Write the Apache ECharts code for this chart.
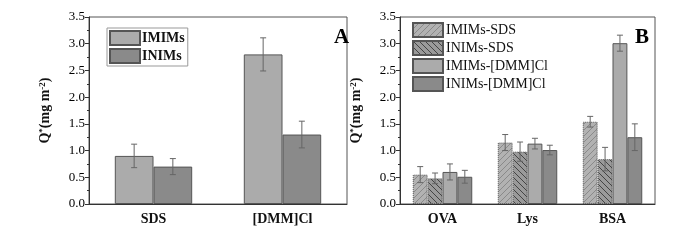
<!DOCTYPE html>
<html>
<head>
<meta charset="utf-8">
<script src="https://cdn.jsdelivr.net/npm/echarts@6/dist/echarts.min.js"></script>
<style>
  html, body { margin: 0; padding: 0; background: #fff; }
  #chart { width: 700px; height: 240px; }
</style>
</head>
<body>
<div id="chart"></div>
<script>
// panel A
var catsA = ['SDS', '[DMM]Cl']
var namesA = ['IMIMs', 'INIMs']
var imimsA = [0.90, 2.80]
var imimsErrA = [0.22, 0.31]
var inimsA = [0.70, 1.30]
var inimsErrA = [0.15, 0.25]

// panel B
var catsB = ['OVA', 'Lys', 'BSA']
var namesB = ['IMIMs-SDS', 'INIMs-SDS', 'IMIMs-[DMM]Cl', 'INIMs-[DMM]Cl']
var imimsSdsB = [0.55, 1.15, 1.54]
var imimsSdsErrB = [0.15, 0.15, 0.10]
var inimsSdsB = [0.48, 0.98, 0.84]
var inimsSdsErrB = [0.10, 0.18, 0.22]
var imimsDmmB = [0.60, 1.13, 3.01]
var imimsDmmErrB = [0.15, 0.10, 0.15]
var inimsDmmB = [0.51, 1.01, 1.25]
var inimsDmmErrB = [0.12, 0.09, 0.25]

var FONT = '"Liberation Serif", "DejaVu Serif", serif'
var LIGHT = '#ababab'
var DARK = '#8a8a8a'

function hatch (base, line, dir) {
  var c = document.createElement('canvas')
  c.width = 6
  c.height = 6
  var ctx = c.getContext('2d')
  ctx.fillStyle = base
  ctx.fillRect(0, 0, 6, 6)
  ctx.strokeStyle = line
  ctx.lineWidth = 1
  ctx.beginPath()
  if (dir > 0) {
    ctx.moveTo(0, 6); ctx.lineTo(6, 0)
    ctx.moveTo(-3, 3); ctx.lineTo(3, -3)
    ctx.moveTo(3, 9); ctx.lineTo(9, 3)
  } else {
    ctx.moveTo(0, 0); ctx.lineTo(6, 6)
    ctx.moveTo(-3, 3); ctx.lineTo(3, 9)
    ctx.moveTo(3, -3); ctx.lineTo(9, 3)
  }
  ctx.stroke()
  return { image: c, repeat: 'repeat' }
}

var yName = {
  name: '{b|Q}{s|*}{b|(mg m}{s|-2}{b|)}',
  nameLocation: 'middle',
  nameRotate: 90,
  nameGap: 36,
  nameTextStyle: {
    rich: {
      b: { fontFamily: FONT, fontWeight: 'bold', fontSize: 14, color: '#111' },
      s: { fontFamily: FONT, fontWeight: 'bold', fontSize: 9, color: '#111', verticalAlign: 'top', padding: [0, 0, 6, 0] }
    }
  }
}

function yAxis (gi) {
  return Object.assign({
    gridIndex: gi,
    type: 'value',
    min: 0,
    max: 3.5,
    interval: 0.5,
    axisLine: { show: true, lineStyle: { color: '#333', width: 1 } },
    axisTick: { show: true, inside: false, length: 4, lineStyle: { color: '#333' } },
    minorTick: { show: true, splitNumber: 2, length: 2, lineStyle: { color: '#333' } },
    splitLine: { show: false },
    axisLabel: {
      fontFamily: FONT, fontSize: 13, color: '#000', margin: 4,
      formatter: function (v) { return v.toFixed(1) }
    }
  }, yName)
}

function xAxis (gi, cats) {
  return {
    gridIndex: gi,
    type: 'category',
    data: cats,
    axisLine: { show: true, lineStyle: { color: '#333', width: 1 } },
    axisTick: { show: false },
    axisLabel: { fontFamily: FONT, fontWeight: 'bold', fontSize: 14, color: '#111', margin: 8 }
  }
}

function errSeries (gi, vals, errs, idx, count, gap) {
  return {
    type: 'custom',
    xAxisIndex: gi,
    yAxisIndex: gi,
    silent: true,
    z: 5,
    data: vals.map(function (v, i) { return [i, v - errs[i], v + errs[i]] }),
    renderItem: function (params, api) {
      var band = api.size([1, 0])[0]
      var used = band * (1 - gap)
      var bw = used / count
      var off = -used / 2 + bw * (idx + 0.5)
      var lo = api.coord([api.value(0), api.value(1)])
      var hi = api.coord([api.value(0), api.value(2)])
      var x = lo[0] + off
      var cap = 3
      var st = { stroke: '#666', lineWidth: 1 }
      return {
        type: 'group',
        children: [
          { type: 'line', shape: { x1: x, y1: lo[1], x2: x, y2: hi[1] }, style: st },
          { type: 'line', shape: { x1: x - cap, y1: lo[1], x2: x + cap, y2: lo[1] }, style: st },
          { type: 'line', shape: { x1: x - cap, y1: hi[1], x2: x + cap, y2: hi[1] }, style: st }
        ]
      }
    }
  }
}

function bar (gi, name, vals, color, gap, dotted) {
  return {
    name: name,
    type: 'bar',
    xAxisIndex: gi,
    yAxisIndex: gi,
    data: vals,
    barGap: '0%',
    barCategoryGap: (gap * 100) + '%',
    itemStyle: { color: color, borderColor: '#555', borderWidth: 1, borderType: dotted ? 'dotted' : 'solid' }
  }
}

var gapA = 0.4
var gapB = 0.3
var patA = hatch('#b2b2b2', '#8a8a8a', 1)
var patB = hatch('#9a9a9a', '#444', -1)

var chart = echarts.init(document.getElementById('chart'), null, { renderer: 'canvas' })
chart.setOption({
  animation: false,
  backgroundColor: '#fff',
  title: [
    { text: 'A', left: 329, top: 22, textStyle: { fontFamily: FONT, fontWeight: 'bold', fontSize: 21, color: '#000' } },
    { text: 'B', left: 630, top: 22, textStyle: { fontFamily: FONT, fontWeight: 'bold', fontSize: 21, color: '#000' } }
  ],
  legend: [
    {
      data: namesA,
      left: 107, top: 28,
      orient: 'vertical',
      itemWidth: 30, itemHeight: 14, itemGap: 2,
      padding: [2, 3, 2, 2],
      borderColor: '#999', borderWidth: 1,
      icon: 'rect',
      selectedMode: false,
      textStyle: { fontFamily: FONT, fontWeight: 'bold', fontSize: 14, color: '#111', padding: [0, 0, 0, -3] }
    },
    {
      data: namesB,
      left: 410, top: 20,
      orient: 'vertical',
      itemWidth: 30, itemHeight: 14, itemGap: 2,
      padding: 2,
      icon: 'rect',
      selectedMode: false,
      textStyle: { fontFamily: FONT, fontSize: 14, color: '#111', padding: [0, 0, 0, -2] }
    }
  ],
  grid: [
    { left: 89, right: 353, top: 17, bottom: 36, show: true, borderColor: '#555', borderWidth: 1 },
    { left: 400, right: 45, top: 17, bottom: 36, show: true, borderColor: '#555', borderWidth: 1 }
  ],
  xAxis: [xAxis(0, catsA), xAxis(1, catsB)],
  yAxis: [yAxis(0), yAxis(1)],
  series: [
    bar(0, namesA[0], imimsA, LIGHT, gapA),
    bar(0, namesA[1], inimsA, DARK, gapA),
    errSeries(0, imimsA, imimsErrA, 0, 2, gapA),
    errSeries(0, inimsA, inimsErrA, 1, 2, gapA),

    bar(1, namesB[0], imimsSdsB, patA, gapB, true),
    bar(1, namesB[1], inimsSdsB, patB, gapB, true),
    bar(1, namesB[2], imimsDmmB, LIGHT, gapB),
    bar(1, namesB[3], inimsDmmB, DARK, gapB),
    errSeries(1, imimsSdsB, imimsSdsErrB, 0, 4, gapB),
    errSeries(1, inimsSdsB, inimsSdsErrB, 1, 4, gapB),
    errSeries(1, imimsDmmB, imimsDmmErrB, 2, 4, gapB),
    errSeries(1, inimsDmmB, inimsDmmErrB, 3, 4, gapB)
  ]
})
</script>
</body>
</html>
